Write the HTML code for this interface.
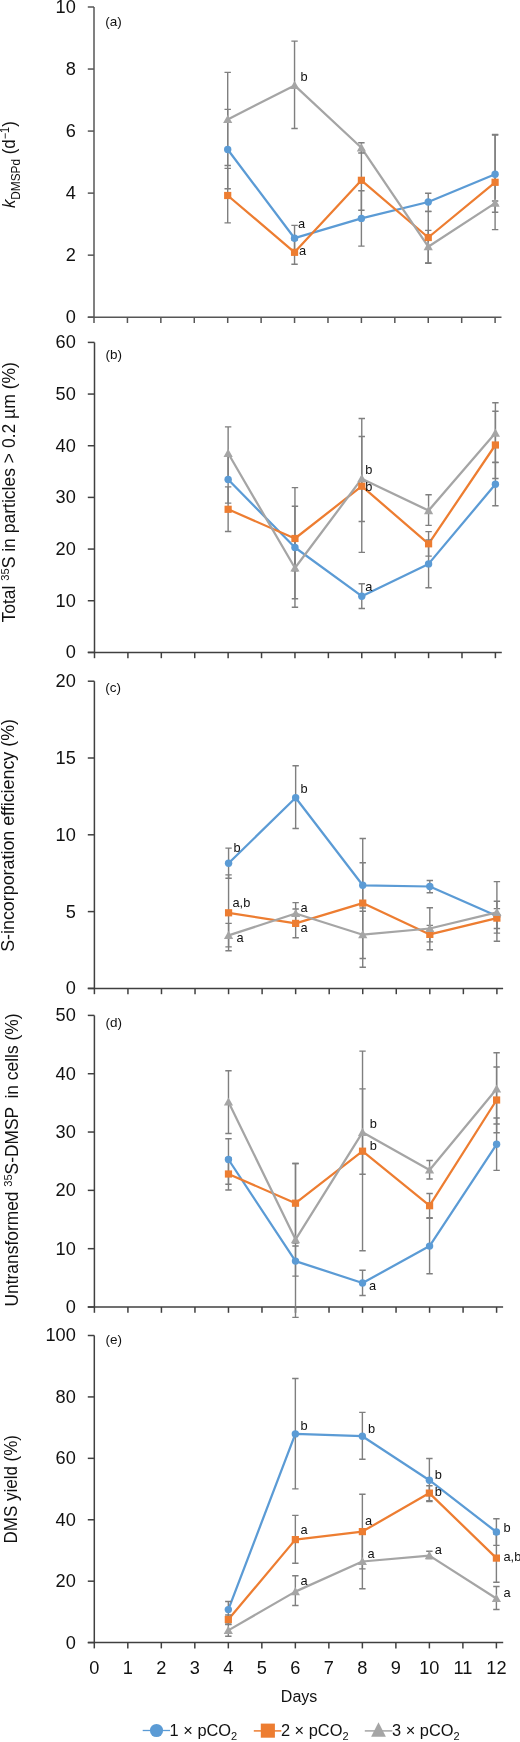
<!DOCTYPE html>
<html><head><meta charset="utf-8"><title>Figure</title><style>html,body{margin:0;padding:0;background:#fff;}svg{display:block;will-change:transform;}</style></head><body>
<svg width="520" height="1742" viewBox="0 0 520 1742" font-family='"Liberation Sans", sans-serif'>
<g stroke="#565656" stroke-width="1.5" fill="none">
<path d="M94.00 7.00V317.20"/>
<path d="M87.8 317.20H501.50"/>
<path d="M87.8 317.20H94.00"/>
<path d="M87.8 255.16H94.00"/>
<path d="M87.8 193.12H94.00"/>
<path d="M87.8 131.08H94.00"/>
<path d="M87.8 69.04H94.00"/>
<path d="M87.8 7.00H94.00"/>
<path d="M94.00 317.20V323.00"/>
<path d="M127.43 317.20V323.00"/>
<path d="M160.85 317.20V323.00"/>
<path d="M194.28 317.20V323.00"/>
<path d="M227.70 317.20V323.00"/>
<path d="M261.12 317.20V323.00"/>
<path d="M294.55 317.20V323.00"/>
<path d="M327.98 317.20V323.00"/>
<path d="M361.40 317.20V323.00"/>
<path d="M394.82 317.20V323.00"/>
<path d="M428.25 317.20V323.00"/>
<path d="M461.68 317.20V323.00"/>
<path d="M495.10 317.20V323.00"/>
</g>
<text x="75.8" y="323.10" font-size="18.2" text-anchor="end" fill="#111111">0</text>
<text x="75.8" y="261.06" font-size="18.2" text-anchor="end" fill="#111111">2</text>
<text x="75.8" y="199.02" font-size="18.2" text-anchor="end" fill="#111111">4</text>
<text x="75.8" y="136.98" font-size="18.2" text-anchor="end" fill="#111111">6</text>
<text x="75.8" y="74.94" font-size="18.2" text-anchor="end" fill="#111111">8</text>
<text x="75.8" y="12.90" font-size="18.2" text-anchor="end" fill="#111111">10</text>
<text x="105.20" y="26.20" font-size="13.5" fill="#111111">(a)</text>
<path d="M227.70 149.50 L294.55 238.20 L361.40 218.40 L428.25 202.00 L495.10 174.20" stroke="#5B9BD5" stroke-width="2.25" fill="none" stroke-linejoin="round"/>
<path d="M227.70 195.50 L294.55 252.30 L361.40 180.30 L428.25 237.50 L495.10 182.30" stroke="#ED7D31" stroke-width="2.25" fill="none" stroke-linejoin="round"/>
<path d="M227.70 119.50 L294.55 85.40 L361.40 147.80 L428.25 246.70 L495.10 203.10" stroke="#A5A5A5" stroke-width="2.25" fill="none" stroke-linejoin="round"/>
<g stroke="#7F7F7F" stroke-width="1.4" fill="none">
<path d="M227.70 72.40V165.50M224.50 72.40H230.90M224.50 165.50H230.90"/>
<path d="M227.70 109.40V188.80M224.50 109.40H230.90M224.50 188.80H230.90"/>
<path d="M227.70 168.40V222.90M224.50 168.40H230.90M224.50 222.90H230.90"/>
<path d="M294.55 41.10V128.50M291.35 41.10H297.75M291.35 128.50H297.75"/>
<path d="M294.55 225.40V251.00M291.35 225.40H297.75M291.35 251.00H297.75"/>
<path d="M294.55 240.00V264.30M291.35 240.00H297.75M291.35 264.30H297.75"/>
<path d="M361.40 142.70V153.00M358.20 142.70H364.60M358.20 153.00H364.60"/>
<path d="M361.40 150.30V210.30M358.20 150.30H364.60M358.20 210.30H364.60"/>
<path d="M361.40 190.70V246.10M358.20 190.70H364.60M358.20 246.10H364.60"/>
<path d="M428.25 193.20V211.40M425.05 193.20H431.45M425.05 211.40H431.45"/>
<path d="M428.25 211.50V263.30M425.05 211.50H431.45M425.05 263.30H431.45"/>
<path d="M428.25 230.40V263.00M425.05 230.40H431.45M425.05 263.00H431.45"/>
<path d="M495.10 135.00V212.30M491.90 135.00H498.30M491.90 212.30H498.30"/>
<path d="M495.10 134.50V229.60M491.90 134.50H498.30M491.90 229.60H498.30"/>
<path d="M495.10 201.00V205.00M491.90 201.00H498.30M491.90 205.00H498.30"/>
</g>
<circle cx="227.70" cy="149.50" r="3.7" fill="#5B9BD5"/>
<circle cx="294.55" cy="238.20" r="3.7" fill="#5B9BD5"/>
<circle cx="361.40" cy="218.40" r="3.7" fill="#5B9BD5"/>
<circle cx="428.25" cy="202.00" r="3.7" fill="#5B9BD5"/>
<circle cx="495.10" cy="174.20" r="3.7" fill="#5B9BD5"/>
<rect x="224.10" y="191.90" width="7.2" height="7.2" fill="#ED7D31"/>
<rect x="290.95" y="248.70" width="7.2" height="7.2" fill="#ED7D31"/>
<rect x="357.80" y="176.70" width="7.2" height="7.2" fill="#ED7D31"/>
<rect x="424.65" y="233.90" width="7.2" height="7.2" fill="#ED7D31"/>
<rect x="491.50" y="178.70" width="7.2" height="7.2" fill="#ED7D31"/>
<path d="M227.70 114.90L232.30 123.10L223.10 123.10Z" fill="#A5A5A5"/>
<path d="M294.55 80.80L299.15 89.00L289.95 89.00Z" fill="#A5A5A5"/>
<path d="M361.40 143.20L366.00 151.40L356.80 151.40Z" fill="#A5A5A5"/>
<path d="M428.25 242.10L432.85 250.30L423.65 250.30Z" fill="#A5A5A5"/>
<path d="M495.10 198.50L499.70 206.70L490.50 206.70Z" fill="#A5A5A5"/>
<text x="300.50" y="80.80" font-size="12.8" fill="#111111">b</text>
<text x="298.00" y="228.30" font-size="12.8" fill="#111111">a</text>
<text x="299.00" y="255.30" font-size="12.8" fill="#111111">a</text>
<g stroke="#404040" stroke-width="1.5" fill="none">
<path d="M94.50 342.40V652.40"/>
<path d="M87.8 652.40H501.80"/>
<path d="M87.8 652.40H94.50"/>
<path d="M87.8 600.73H94.50"/>
<path d="M87.8 549.07H94.50"/>
<path d="M87.8 497.40H94.50"/>
<path d="M87.8 445.73H94.50"/>
<path d="M87.8 394.07H94.50"/>
<path d="M87.8 342.40H94.50"/>
<path d="M94.50 652.40V658.20"/>
<path d="M127.91 652.40V658.20"/>
<path d="M161.32 652.40V658.20"/>
<path d="M194.72 652.40V658.20"/>
<path d="M228.13 652.40V658.20"/>
<path d="M261.54 652.40V658.20"/>
<path d="M294.95 652.40V658.20"/>
<path d="M328.36 652.40V658.20"/>
<path d="M361.77 652.40V658.20"/>
<path d="M395.18 652.40V658.20"/>
<path d="M428.58 652.40V658.20"/>
<path d="M461.99 652.40V658.20"/>
<path d="M495.40 652.40V658.20"/>
</g>
<text x="75.8" y="658.30" font-size="18.2" text-anchor="end" fill="#111111">0</text>
<text x="75.8" y="606.63" font-size="18.2" text-anchor="end" fill="#111111">10</text>
<text x="75.8" y="554.97" font-size="18.2" text-anchor="end" fill="#111111">20</text>
<text x="75.8" y="503.30" font-size="18.2" text-anchor="end" fill="#111111">30</text>
<text x="75.8" y="451.63" font-size="18.2" text-anchor="end" fill="#111111">40</text>
<text x="75.8" y="399.97" font-size="18.2" text-anchor="end" fill="#111111">50</text>
<text x="75.8" y="348.30" font-size="18.2" text-anchor="end" fill="#111111">60</text>
<text x="105.50" y="358.80" font-size="13.5" fill="#111111">(b)</text>
<path d="M228.13 479.50 L294.95 547.50 L361.77 596.20 L428.58 563.90 L495.40 484.30" stroke="#5B9BD5" stroke-width="2.25" fill="none" stroke-linejoin="round"/>
<path d="M228.13 509.30 L294.95 538.50 L361.77 486.20 L428.58 543.80 L495.40 445.00" stroke="#ED7D31" stroke-width="2.25" fill="none" stroke-linejoin="round"/>
<path d="M228.13 453.30 L294.95 568.00 L361.77 478.70 L428.58 510.60 L495.40 433.10" stroke="#A5A5A5" stroke-width="2.25" fill="none" stroke-linejoin="round"/>
<g stroke="#7F7F7F" stroke-width="1.4" fill="none">
<path d="M228.13 426.90V479.70M224.93 426.90H231.33M224.93 479.70H231.33"/>
<path d="M228.13 455.90V503.10M224.93 455.90H231.33M224.93 503.10H231.33"/>
<path d="M228.13 486.90V531.50M224.93 486.90H231.33M224.93 531.50H231.33"/>
<path d="M294.95 506.20V570.80M291.75 506.20H298.15M291.75 570.80H298.15"/>
<path d="M294.95 487.60V607.30M291.75 487.60H298.15M291.75 607.30H298.15"/>
<path d="M294.95 537.20V598.80M291.75 537.20H298.15M291.75 598.80H298.15"/>
<path d="M361.77 436.50V521.50M358.57 436.50H364.97M358.57 521.50H364.97"/>
<path d="M361.77 418.50V552.40M358.57 418.50H364.97M358.57 552.40H364.97"/>
<path d="M361.77 583.80V608.50M358.57 583.80H364.97M358.57 608.50H364.97"/>
<path d="M428.58 494.70V525.40M425.38 494.70H431.78M425.38 525.40H431.78"/>
<path d="M428.58 531.60V556.10M425.38 531.60H431.78M425.38 556.10H431.78"/>
<path d="M428.58 540.00V587.70M425.38 540.00H431.78M425.38 587.70H431.78"/>
<path d="M495.40 402.80V462.30M492.20 402.80H498.60M492.20 462.30H498.60"/>
<path d="M495.40 411.20V478.50M492.20 411.20H498.60M492.20 478.50H498.60"/>
<path d="M495.40 462.60V505.80M492.20 462.60H498.60M492.20 505.80H498.60"/>
</g>
<circle cx="228.13" cy="479.50" r="3.7" fill="#5B9BD5"/>
<circle cx="294.95" cy="547.50" r="3.7" fill="#5B9BD5"/>
<circle cx="361.77" cy="596.20" r="3.7" fill="#5B9BD5"/>
<circle cx="428.58" cy="563.90" r="3.7" fill="#5B9BD5"/>
<circle cx="495.40" cy="484.30" r="3.7" fill="#5B9BD5"/>
<rect x="224.53" y="505.70" width="7.2" height="7.2" fill="#ED7D31"/>
<rect x="291.35" y="534.90" width="7.2" height="7.2" fill="#ED7D31"/>
<rect x="358.17" y="482.60" width="7.2" height="7.2" fill="#ED7D31"/>
<rect x="424.98" y="540.20" width="7.2" height="7.2" fill="#ED7D31"/>
<rect x="491.80" y="441.40" width="7.2" height="7.2" fill="#ED7D31"/>
<path d="M228.13 448.70L232.73 456.90L223.53 456.90Z" fill="#A5A5A5"/>
<path d="M294.95 563.40L299.55 571.60L290.35 571.60Z" fill="#A5A5A5"/>
<path d="M361.77 474.10L366.37 482.30L357.17 482.30Z" fill="#A5A5A5"/>
<path d="M428.58 506.00L433.18 514.20L423.98 514.20Z" fill="#A5A5A5"/>
<path d="M495.40 428.50L500.00 436.70L490.80 436.70Z" fill="#A5A5A5"/>
<text x="365.20" y="473.80" font-size="12.8" fill="#111111">b</text>
<text x="365.20" y="490.80" font-size="12.8" fill="#111111">b</text>
<text x="365.20" y="590.70" font-size="12.8" fill="#111111">a</text>
<g stroke="#404040" stroke-width="1.5" fill="none">
<path d="M94.40 681.20V988.40"/>
<path d="M87.8 988.40H503.10"/>
<path d="M87.8 988.40H94.40"/>
<path d="M87.8 911.60H94.40"/>
<path d="M87.8 834.80H94.40"/>
<path d="M87.8 758.00H94.40"/>
<path d="M87.8 681.20H94.40"/>
<path d="M94.40 988.40V994.20"/>
<path d="M127.94 988.40V994.20"/>
<path d="M161.48 988.40V994.20"/>
<path d="M195.03 988.40V994.20"/>
<path d="M228.57 988.40V994.20"/>
<path d="M262.11 988.40V994.20"/>
<path d="M295.65 988.40V994.20"/>
<path d="M329.19 988.40V994.20"/>
<path d="M362.73 988.40V994.20"/>
<path d="M396.27 988.40V994.20"/>
<path d="M429.82 988.40V994.20"/>
<path d="M463.36 988.40V994.20"/>
<path d="M496.90 988.40V994.20"/>
</g>
<text x="75.8" y="994.30" font-size="18.2" text-anchor="end" fill="#111111">0</text>
<text x="75.8" y="917.50" font-size="18.2" text-anchor="end" fill="#111111">5</text>
<text x="75.8" y="840.70" font-size="18.2" text-anchor="end" fill="#111111">10</text>
<text x="75.8" y="763.90" font-size="18.2" text-anchor="end" fill="#111111">15</text>
<text x="75.8" y="687.10" font-size="18.2" text-anchor="end" fill="#111111">20</text>
<text x="105.20" y="692.00" font-size="13.5" fill="#111111">(c)</text>
<path d="M228.57 863.20 L295.65 797.80 L362.73 885.30 L429.82 886.50 L496.90 916.00" stroke="#5B9BD5" stroke-width="2.25" fill="none" stroke-linejoin="round"/>
<path d="M228.57 912.80 L295.65 923.40 L362.73 903.10 L429.82 934.40 L496.90 918.10" stroke="#ED7D31" stroke-width="2.25" fill="none" stroke-linejoin="round"/>
<path d="M228.57 935.40 L295.65 913.50 L362.73 934.70 L429.82 928.50 L496.90 912.30" stroke="#A5A5A5" stroke-width="2.25" fill="none" stroke-linejoin="round"/>
<g stroke="#7F7F7F" stroke-width="1.4" fill="none">
<path d="M228.57 848.10V878.30M225.37 848.10H231.77M225.37 878.30H231.77"/>
<path d="M228.57 874.90V950.70M225.37 874.90H231.77M225.37 950.70H231.77"/>
<path d="M228.57 923.40V946.90M225.37 923.40H231.77M225.37 946.90H231.77"/>
<path d="M295.65 765.70V828.50M292.45 765.70H298.85M292.45 828.50H298.85"/>
<path d="M295.65 902.60V924.40M292.45 902.60H298.85M292.45 924.40H298.85"/>
<path d="M295.65 909.00V937.70M292.45 909.00H298.85M292.45 937.70H298.85"/>
<path d="M362.73 862.70V908.00M359.53 862.70H365.93M359.53 908.00H365.93"/>
<path d="M362.73 838.50V967.20M359.53 838.50H365.93M359.53 967.20H365.93"/>
<path d="M362.73 911.20V958.50M359.53 911.20H365.93M359.53 958.50H365.93"/>
<path d="M429.82 880.50V892.70M426.62 880.50H433.02M426.62 892.70H433.02"/>
<path d="M429.82 907.70V949.70M426.62 907.70H433.02M426.62 949.70H433.02"/>
<path d="M429.82 925.40V941.90M426.62 925.40H433.02M426.62 941.90H433.02"/>
<path d="M496.90 881.60V941.20M493.70 881.60H500.10M493.70 941.20H500.10"/>
<path d="M496.90 901.20V933.10M493.70 901.20H500.10M493.70 933.10H500.10"/>
<path d="M496.90 908.60V928.50M493.70 908.60H500.10M493.70 928.50H500.10"/>
</g>
<circle cx="228.57" cy="863.20" r="3.7" fill="#5B9BD5"/>
<circle cx="295.65" cy="797.80" r="3.7" fill="#5B9BD5"/>
<circle cx="362.73" cy="885.30" r="3.7" fill="#5B9BD5"/>
<circle cx="429.82" cy="886.50" r="3.7" fill="#5B9BD5"/>
<circle cx="496.90" cy="916.00" r="3.7" fill="#5B9BD5"/>
<rect x="224.97" y="909.20" width="7.2" height="7.2" fill="#ED7D31"/>
<rect x="292.05" y="919.80" width="7.2" height="7.2" fill="#ED7D31"/>
<rect x="359.13" y="899.50" width="7.2" height="7.2" fill="#ED7D31"/>
<rect x="426.22" y="930.80" width="7.2" height="7.2" fill="#ED7D31"/>
<rect x="493.30" y="914.50" width="7.2" height="7.2" fill="#ED7D31"/>
<path d="M228.57 930.80L233.17 939.00L223.97 939.00Z" fill="#A5A5A5"/>
<path d="M295.65 908.90L300.25 917.10L291.05 917.10Z" fill="#A5A5A5"/>
<path d="M362.73 930.10L367.33 938.30L358.13 938.30Z" fill="#A5A5A5"/>
<path d="M429.82 923.90L434.42 932.10L425.22 932.10Z" fill="#A5A5A5"/>
<path d="M496.90 907.70L501.50 915.90L492.30 915.90Z" fill="#A5A5A5"/>
<text x="233.50" y="851.50" font-size="12.8" fill="#111111">b</text>
<text x="300.50" y="793.40" font-size="12.8" fill="#111111">b</text>
<text x="232.50" y="906.50" font-size="12.8" fill="#111111">a,b</text>
<text x="236.50" y="941.80" font-size="12.8" fill="#111111">a</text>
<text x="300.50" y="911.80" font-size="12.8" fill="#111111">a</text>
<text x="300.50" y="932.00" font-size="12.8" fill="#111111">a</text>
<g stroke="#404040" stroke-width="1.5" fill="none">
<path d="M94.40 1015.40V1307.00"/>
<path d="M87.8 1307.00H503.10"/>
<path d="M87.8 1307.00H94.40"/>
<path d="M87.8 1248.68H94.40"/>
<path d="M87.8 1190.36H94.40"/>
<path d="M87.8 1132.04H94.40"/>
<path d="M87.8 1073.72H94.40"/>
<path d="M87.8 1015.40H94.40"/>
<path d="M94.40 1307.00V1312.80"/>
<path d="M127.92 1307.00V1312.80"/>
<path d="M161.43 1307.00V1312.80"/>
<path d="M194.95 1307.00V1312.80"/>
<path d="M228.47 1307.00V1312.80"/>
<path d="M261.98 1307.00V1312.80"/>
<path d="M295.50 1307.00V1312.80"/>
<path d="M329.02 1307.00V1312.80"/>
<path d="M362.53 1307.00V1312.80"/>
<path d="M396.05 1307.00V1312.80"/>
<path d="M429.57 1307.00V1312.80"/>
<path d="M463.08 1307.00V1312.80"/>
<path d="M496.60 1307.00V1312.80"/>
</g>
<text x="75.8" y="1312.90" font-size="18.2" text-anchor="end" fill="#111111">0</text>
<text x="75.8" y="1254.58" font-size="18.2" text-anchor="end" fill="#111111">10</text>
<text x="75.8" y="1196.26" font-size="18.2" text-anchor="end" fill="#111111">20</text>
<text x="75.8" y="1137.94" font-size="18.2" text-anchor="end" fill="#111111">30</text>
<text x="75.8" y="1079.62" font-size="18.2" text-anchor="end" fill="#111111">40</text>
<text x="75.8" y="1021.30" font-size="18.2" text-anchor="end" fill="#111111">50</text>
<text x="105.50" y="1026.60" font-size="13.5" fill="#111111">(d)</text>
<path d="M228.47 1159.50 L295.50 1261.10 L362.53 1283.00 L429.57 1246.10 L496.60 1144.30" stroke="#5B9BD5" stroke-width="2.25" fill="none" stroke-linejoin="round"/>
<path d="M228.47 1174.00 L295.50 1203.20 L362.53 1151.20 L429.57 1205.70 L496.60 1100.00" stroke="#ED7D31" stroke-width="2.25" fill="none" stroke-linejoin="round"/>
<path d="M228.47 1102.00 L295.50 1239.60 L362.53 1132.30 L429.57 1170.00 L496.60 1089.00" stroke="#A5A5A5" stroke-width="2.25" fill="none" stroke-linejoin="round"/>
<g stroke="#7F7F7F" stroke-width="1.4" fill="none">
<path d="M228.47 1070.70V1133.50M225.27 1070.70H231.67M225.27 1133.50H231.67"/>
<path d="M228.47 1138.80V1184.20M225.27 1138.80H231.67M225.27 1184.20H231.67"/>
<path d="M228.47 1158.00V1190.00M225.27 1158.00H231.67M225.27 1190.00H231.67"/>
<path d="M295.50 1163.50V1243.00M292.30 1163.50H298.70M292.30 1243.00H298.70"/>
<path d="M295.50 1163.50V1317.40M292.30 1163.50H298.70M292.30 1317.40H298.70"/>
<path d="M295.50 1246.00V1276.10M292.30 1246.00H298.70M292.30 1276.10H298.70"/>
<path d="M362.53 1088.90V1174.30M359.33 1088.90H365.73M359.33 1174.30H365.73"/>
<path d="M362.53 1051.10V1250.70M359.33 1051.10H365.73M359.33 1250.70H365.73"/>
<path d="M362.53 1270.30V1295.50M359.33 1270.30H365.73M359.33 1295.50H365.73"/>
<path d="M429.57 1160.50V1179.00M426.37 1160.50H432.77M426.37 1179.00H432.77"/>
<path d="M429.57 1193.50V1217.70M426.37 1193.50H432.77M426.37 1217.70H432.77"/>
<path d="M429.57 1218.40V1273.80M426.37 1218.40H432.77M426.37 1273.80H432.77"/>
<path d="M496.60 1052.70V1124.00M493.40 1052.70H499.80M493.40 1124.00H499.80"/>
<path d="M496.60 1067.00V1132.80M493.40 1067.00H499.80M493.40 1132.80H499.80"/>
<path d="M496.60 1118.00V1170.40M493.40 1118.00H499.80M493.40 1170.40H499.80"/>
</g>
<circle cx="228.47" cy="1159.50" r="3.7" fill="#5B9BD5"/>
<circle cx="295.50" cy="1261.10" r="3.7" fill="#5B9BD5"/>
<circle cx="362.53" cy="1283.00" r="3.7" fill="#5B9BD5"/>
<circle cx="429.57" cy="1246.10" r="3.7" fill="#5B9BD5"/>
<circle cx="496.60" cy="1144.30" r="3.7" fill="#5B9BD5"/>
<rect x="224.87" y="1170.40" width="7.2" height="7.2" fill="#ED7D31"/>
<rect x="291.90" y="1199.60" width="7.2" height="7.2" fill="#ED7D31"/>
<rect x="358.93" y="1147.60" width="7.2" height="7.2" fill="#ED7D31"/>
<rect x="425.97" y="1202.10" width="7.2" height="7.2" fill="#ED7D31"/>
<rect x="493.00" y="1096.40" width="7.2" height="7.2" fill="#ED7D31"/>
<path d="M228.47 1097.40L233.07 1105.60L223.87 1105.60Z" fill="#A5A5A5"/>
<path d="M295.50 1235.00L300.10 1243.20L290.90 1243.20Z" fill="#A5A5A5"/>
<path d="M362.53 1127.70L367.13 1135.90L357.93 1135.90Z" fill="#A5A5A5"/>
<path d="M429.57 1165.40L434.17 1173.60L424.97 1173.60Z" fill="#A5A5A5"/>
<path d="M496.60 1084.40L501.20 1092.60L492.00 1092.60Z" fill="#A5A5A5"/>
<text x="369.80" y="1128.40" font-size="12.8" fill="#111111">b</text>
<text x="369.80" y="1150.30" font-size="12.8" fill="#111111">b</text>
<text x="369.10" y="1290.40" font-size="12.8" fill="#111111">a</text>
<g stroke="#404040" stroke-width="1.5" fill="none">
<path d="M94.30 1335.50V1642.60"/>
<path d="M87.8 1642.60H503.20"/>
<path d="M87.8 1642.60H94.30"/>
<path d="M87.8 1581.18H94.30"/>
<path d="M87.8 1519.76H94.30"/>
<path d="M87.8 1458.34H94.30"/>
<path d="M87.8 1396.92H94.30"/>
<path d="M87.8 1335.50H94.30"/>
<path d="M94.30 1642.60V1648.40"/>
<path d="M127.81 1642.60V1648.40"/>
<path d="M161.32 1642.60V1648.40"/>
<path d="M194.82 1642.60V1648.40"/>
<path d="M228.33 1642.60V1648.40"/>
<path d="M261.84 1642.60V1648.40"/>
<path d="M295.35 1642.60V1648.40"/>
<path d="M328.86 1642.60V1648.40"/>
<path d="M362.37 1642.60V1648.40"/>
<path d="M395.88 1642.60V1648.40"/>
<path d="M429.38 1642.60V1648.40"/>
<path d="M462.89 1642.60V1648.40"/>
<path d="M496.40 1642.60V1648.40"/>
</g>
<text x="75.8" y="1648.50" font-size="18.2" text-anchor="end" fill="#111111">0</text>
<text x="75.8" y="1587.08" font-size="18.2" text-anchor="end" fill="#111111">20</text>
<text x="75.8" y="1525.66" font-size="18.2" text-anchor="end" fill="#111111">40</text>
<text x="75.8" y="1464.24" font-size="18.2" text-anchor="end" fill="#111111">60</text>
<text x="75.8" y="1402.82" font-size="18.2" text-anchor="end" fill="#111111">80</text>
<text x="75.8" y="1341.40" font-size="18.2" text-anchor="end" fill="#111111">100</text>
<text x="105.50" y="1344.20" font-size="13.5" fill="#111111">(e)</text>
<path d="M228.33 1609.60 L295.35 1433.90 L362.37 1436.20 L429.38 1480.20 L496.40 1532.00" stroke="#5B9BD5" stroke-width="2.25" fill="none" stroke-linejoin="round"/>
<path d="M228.33 1619.50 L295.35 1539.60 L362.37 1531.60 L429.38 1493.10 L496.40 1558.10" stroke="#ED7D31" stroke-width="2.25" fill="none" stroke-linejoin="round"/>
<path d="M228.33 1630.40 L295.35 1591.60 L362.37 1561.50 L429.38 1555.60 L496.40 1598.50" stroke="#A5A5A5" stroke-width="2.25" fill="none" stroke-linejoin="round"/>
<g stroke="#7F7F7F" stroke-width="1.4" fill="none">
<path d="M228.33 1601.50V1617.70M225.13 1601.50H231.53M225.13 1617.70H231.53"/>
<path d="M228.33 1615.00V1624.00M225.13 1615.00H231.53M225.13 1624.00H231.53"/>
<path d="M228.33 1624.60V1636.20M225.13 1624.60H231.53M225.13 1636.20H231.53"/>
<path d="M295.35 1378.50V1488.90M292.15 1378.50H298.55M292.15 1488.90H298.55"/>
<path d="M295.35 1515.40V1563.20M292.15 1515.40H298.55M292.15 1563.20H298.55"/>
<path d="M295.35 1575.70V1605.50M292.15 1575.70H298.55M292.15 1605.50H298.55"/>
<path d="M362.37 1412.40V1459.20M359.17 1412.40H365.57M359.17 1459.20H365.57"/>
<path d="M362.37 1494.20V1568.90M359.17 1494.20H365.57M359.17 1568.90H365.57"/>
<path d="M362.37 1534.20V1588.80M359.17 1534.20H365.57M359.17 1588.80H365.57"/>
<path d="M429.38 1458.50V1501.50M426.18 1458.50H432.58M426.18 1501.50H432.58"/>
<path d="M429.38 1485.80V1500.80M426.18 1485.80H432.58M426.18 1500.80H432.58"/>
<path d="M429.38 1551.20V1558.50M426.18 1551.20H432.58M426.18 1558.50H432.58"/>
<path d="M496.40 1518.80V1545.40M493.20 1518.80H499.60M493.20 1545.40H499.60"/>
<path d="M496.40 1534.00V1582.30M493.20 1534.00H499.60M493.20 1582.30H499.60"/>
<path d="M496.40 1586.50V1609.50M493.20 1586.50H499.60M493.20 1609.50H499.60"/>
</g>
<circle cx="228.33" cy="1609.60" r="3.7" fill="#5B9BD5"/>
<circle cx="295.35" cy="1433.90" r="3.7" fill="#5B9BD5"/>
<circle cx="362.37" cy="1436.20" r="3.7" fill="#5B9BD5"/>
<circle cx="429.38" cy="1480.20" r="3.7" fill="#5B9BD5"/>
<circle cx="496.40" cy="1532.00" r="3.7" fill="#5B9BD5"/>
<rect x="224.73" y="1615.90" width="7.2" height="7.2" fill="#ED7D31"/>
<rect x="291.75" y="1536.00" width="7.2" height="7.2" fill="#ED7D31"/>
<rect x="358.77" y="1528.00" width="7.2" height="7.2" fill="#ED7D31"/>
<rect x="425.78" y="1489.50" width="7.2" height="7.2" fill="#ED7D31"/>
<rect x="492.80" y="1554.50" width="7.2" height="7.2" fill="#ED7D31"/>
<path d="M228.33 1625.80L232.93 1634.00L223.73 1634.00Z" fill="#A5A5A5"/>
<path d="M295.35 1587.00L299.95 1595.20L290.75 1595.20Z" fill="#A5A5A5"/>
<path d="M362.37 1556.90L366.97 1565.10L357.77 1565.10Z" fill="#A5A5A5"/>
<path d="M429.38 1551.00L433.98 1559.20L424.78 1559.20Z" fill="#A5A5A5"/>
<path d="M496.40 1593.90L501.00 1602.10L491.80 1602.10Z" fill="#A5A5A5"/>
<text x="300.50" y="1429.50" font-size="12.8" fill="#111111">b</text>
<text x="300.50" y="1533.90" font-size="12.8" fill="#111111">a</text>
<text x="300.50" y="1585.40" font-size="12.8" fill="#111111">a</text>
<text x="368.00" y="1433.20" font-size="12.8" fill="#111111">b</text>
<text x="365.00" y="1525.00" font-size="12.8" fill="#111111">a</text>
<text x="367.50" y="1558.00" font-size="12.8" fill="#111111">a</text>
<text x="434.70" y="1479.00" font-size="12.8" fill="#111111">b</text>
<text x="434.70" y="1495.80" font-size="12.8" fill="#111111">b</text>
<text x="434.70" y="1553.50" font-size="12.8" fill="#111111">a</text>
<text x="503.50" y="1531.80" font-size="12.8" fill="#111111">b</text>
<text x="503.50" y="1560.80" font-size="12.8" fill="#111111">a,b</text>
<text x="503.50" y="1597.30" font-size="12.8" fill="#111111">a</text>
<text x="94.30" y="1674.30" font-size="18.2" text-anchor="middle" fill="#111111">0</text>
<text x="127.81" y="1674.30" font-size="18.2" text-anchor="middle" fill="#111111">1</text>
<text x="161.32" y="1674.30" font-size="18.2" text-anchor="middle" fill="#111111">2</text>
<text x="194.82" y="1674.30" font-size="18.2" text-anchor="middle" fill="#111111">3</text>
<text x="228.33" y="1674.30" font-size="18.2" text-anchor="middle" fill="#111111">4</text>
<text x="261.84" y="1674.30" font-size="18.2" text-anchor="middle" fill="#111111">5</text>
<text x="295.35" y="1674.30" font-size="18.2" text-anchor="middle" fill="#111111">6</text>
<text x="328.86" y="1674.30" font-size="18.2" text-anchor="middle" fill="#111111">7</text>
<text x="362.37" y="1674.30" font-size="18.2" text-anchor="middle" fill="#111111">8</text>
<text x="395.88" y="1674.30" font-size="18.2" text-anchor="middle" fill="#111111">9</text>
<text x="429.38" y="1674.30" font-size="18.2" text-anchor="middle" fill="#111111">10</text>
<text x="462.89" y="1674.30" font-size="18.2" text-anchor="middle" fill="#111111">11</text>
<text x="496.40" y="1674.30" font-size="18.2" text-anchor="middle" fill="#111111">12</text>
<text x="299.1" y="1701.9" font-size="16" text-anchor="middle" fill="#111111">Days</text>
<text transform="translate(15.00 208.10) rotate(-90)" font-size="18.5" fill="#111111" textLength="86.9" lengthAdjust="spacingAndGlyphs"><tspan font-style="italic">k</tspan><tspan font-size="13" dy="4.5">DMSPd</tspan><tspan dy="-4.5"> (d</tspan><tspan font-size="12" dy="-6">&#8722;1</tspan><tspan dy="6">)</tspan></text>
<text transform="translate(15.00 622.50) rotate(-90)" font-size="18.2" fill="#111111" textLength="260.4" lengthAdjust="spacingAndGlyphs">Total <tspan font-size="11.5" dy="-6.5">35</tspan><tspan dy="6.5">S in particles &gt; 0.2 &#181;m (%)</tspan></text>
<text transform="translate(14.40 951.80) rotate(-90)" font-size="18.2" fill="#111111" textLength="232.8" lengthAdjust="spacingAndGlyphs">S-incorporation efficiency (%)</text>
<text transform="translate(18.00 1306.50) rotate(-90)" font-size="18.2" fill="#111111" textLength="293.0" lengthAdjust="spacingAndGlyphs">Untransformed <tspan font-size="11.5" dy="-6.5">35</tspan><tspan dy="6.5">S-DMSP&#8201; in cells (%)</tspan></text>
<text transform="translate(16.70 1543.50) rotate(-90)" font-size="18.2" fill="#111111" textLength="108.5" lengthAdjust="spacingAndGlyphs">DMS yield (%)</text>
<path d="M142.7 1730.5H170" stroke="#5B9BD5" stroke-width="1.3"/>
<circle cx="156.5" cy="1730.5" r="6.6" fill="#5B9BD5"/>
<path d="M253.8 1730.9H281.3" stroke="#ED7D31" stroke-width="1.5"/>
<rect x="260.8" y="1723.6" width="14.1" height="14.1" fill="#ED7D31"/>
<path d="M364.8 1730.9H392.3" stroke="#A5A5A5" stroke-width="1.5"/>
<path d="M378.5 1722.3L385.9 1736.7L371.1 1736.7Z" fill="#A5A5A5"/>
<text x="169.6" y="1736.2" font-size="16.4" fill="#111111">1 &#215; pCO<tspan font-size="11" dy="3.5">2</tspan></text>
<text x="280.9" y="1736.2" font-size="16.4" fill="#111111">2 &#215; pCO<tspan font-size="11" dy="3.5">2</tspan></text>
<text x="392.0" y="1736.2" font-size="16.4" fill="#111111">3 &#215; pCO<tspan font-size="11" dy="3.5">2</tspan></text>
</svg>
</body></html>
